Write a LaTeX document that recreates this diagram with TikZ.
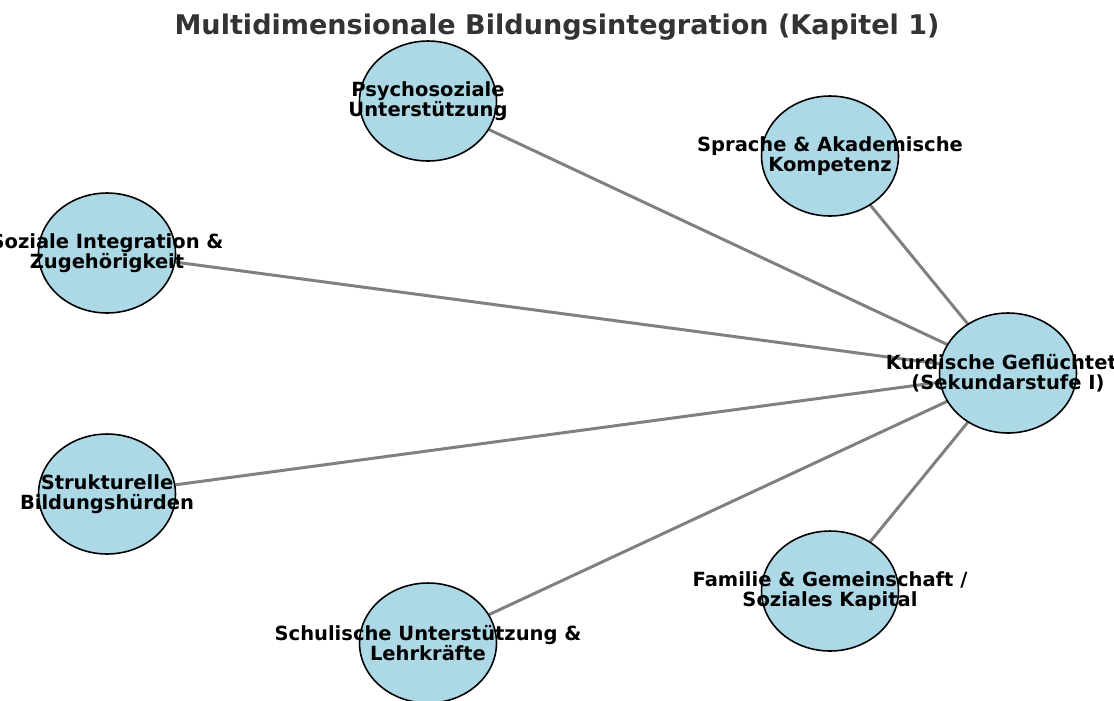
\documentclass[tikz,border=0pt]{standalone}
\usepackage{fontspec}
\setmainfont{DejaVu Sans}
\usepackage{tikz}
\usetikzlibrary{shapes.geometric,backgrounds}

\definecolor{nodeblue}{HTML}{ADD8E6}
\definecolor{edgegray}{HTML}{808080}
\definecolor{titlegray}{HTML}{333333}

\begin{document}
\begin{tikzpicture}[
  x=0.02cm, y=-0.02cm,
  bubble/.style={draw=black, line width=0.9pt, fill=nodeblue, ellipse,
                 minimum width=2.74cm, minimum height=2.4cm, inner sep=0pt},
  lbl/.style={font=\fontsize{11.1}{11.6}\selectfont\bfseries, align=center,
              text=black, inner sep=0pt},
  link/.style={draw=edgegray, line width=1.7pt},
]
\useasboundingbox (0,0) rectangle (1114,700);

\node[font=\fontsize{15.4}{17}\selectfont\bfseries, text=titlegray] (title) at (557,27)
  {Multidimensionale Bildungsintegration (Kapitel 1)};

\node[bubble, label={[lbl]center:Kurdische Geflüchtete\\(Sekundarstufe I)}] (kurd) at (1008,373) {};
\node[bubble, label={[lbl]center:Psychosoziale\\Unterstützung}] (psy) at (428,101) {};
\node[bubble, label={[lbl]center:Sprache \& Akademische\\Kompetenz}] (spr) at (830,156) {};
\node[bubble, label={[lbl]center:Soziale Integration \&\\Zugehörigkeit}] (soz) at (107,253) {};
\node[bubble, label={[lbl]center:Strukturelle\\Bildungshürden}] (str) at (107,494) {};
\node[bubble, label={[lbl]center:Schulische Unterstützung \&\\Lehrkräfte}] (sch) at (428,643) {};
\node[bubble, label={[lbl]center:Familie \& Gemeinschaft /\\Soziales Kapital}] (fam) at (830,591) {};

\begin{scope}[on background layer]
\foreach \n in {psy,spr,soz,str,sch,fam}
  \draw[link] (kurd.center) -- (\n.center);
\end{scope}
\end{tikzpicture}
\end{document}
